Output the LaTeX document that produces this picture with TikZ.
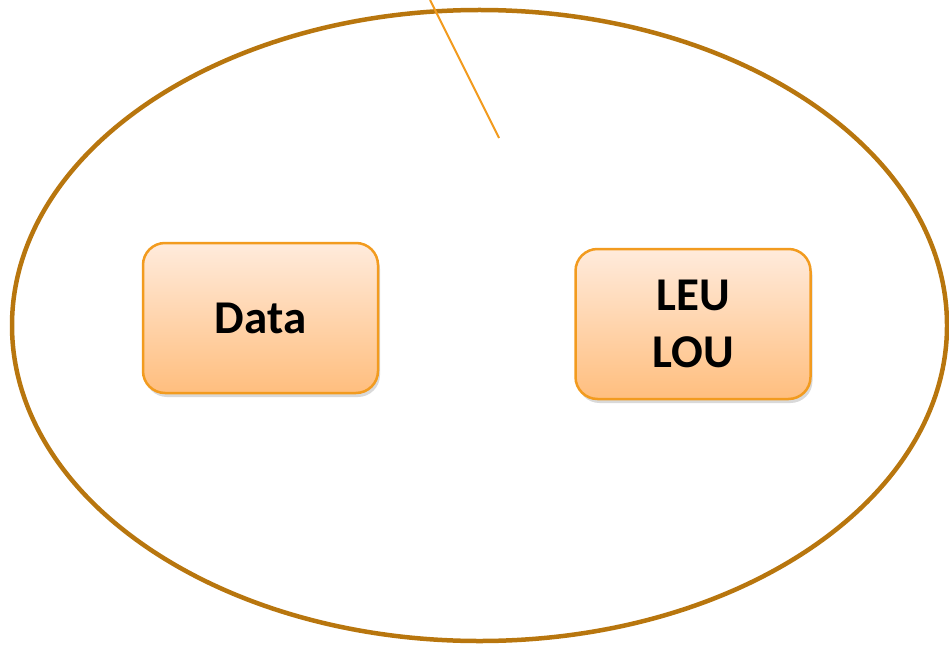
\documentclass[tikz,border=0pt]{standalone}
\usepackage{fontspec}
\setmainfont{Carlito}
\usetikzlibrary{shadows}
\definecolor{ring}{HTML}{B8760E}
\definecolor{edge}{HTML}{F29B1F}
\definecolor{boxtop}{HTML}{FFEBDC}
\definecolor{boxbot}{HTML}{FFBE7E}
\tikzset{box/.style={draw=edge, line width=2.5pt, rounded corners=22pt,
    top color=boxtop, bottom color=boxbot, minimum width=235pt, minimum height=150pt,
    align=center, font=\fontsize{47}{57}\selectfont\bfseries,
    drop shadow={opacity=0.3, shadow xshift=2pt, shadow yshift=-4pt}}}

\begin{document}
\begin{tikzpicture}[x=1pt, y=-1pt]
          \useasboundingbox (0,0) rectangle (949,647);
          \draw[ring, line width=4.5pt] (479.5,325.5) ellipse (467.5 and 315.5);
          \coordinate (T1) at (430,0);
          \coordinate (T2) at (499,138);
          \draw[edge, line width=2pt] (T1) -- (T2);
          \node[box] (D) at (260.5,318) {Data};
          \node[box] (L) at (693,324) {LEU\\LOU};
        \end{tikzpicture}
\end{document}
